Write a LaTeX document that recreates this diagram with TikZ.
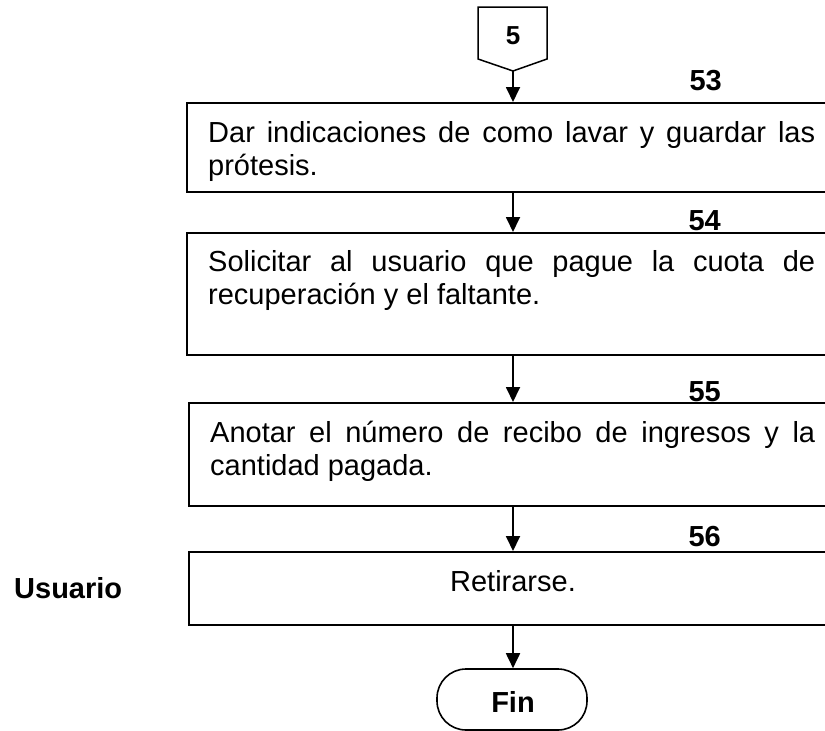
\documentclass[tikz,border=0pt]{standalone}
\usepackage{fontspec}
\setmainfont{Liberation Sans}
\usetikzlibrary{arrows.meta}
\begin{document}
\begin{tikzpicture}[x=1pt,y=-1pt,
  box/.style={draw, line width=2pt, inner sep=0pt},
  body/.style={inner sep=0pt, font=\fontsize{29}{32.5}\selectfont, align=left},
  lbl/.style={inner sep=0pt, font=\fontsize{29}{32}\selectfont\bfseries},
  arr/.style={line width=1.8pt, -{Triangle[length=15pt,width=14pt]}},
  term/.style={draw, line width=1.6pt, rounded corners=29pt, inner sep=0pt}
]
\useasboundingbox (0,0) rectangle (825,731);
\clip (0,0) rectangle (825,731);
% off-page connector 5
\draw[line width=1.5pt, line join=miter] (478,7) -- (547,7) -- (547,59) -- (513,71) -- (478,59) -- cycle;
\node[lbl, font=\fontsize{26}{30}\selectfont\bfseries, anchor=base] (c5) at (513,44) {5};
\coordinate (p5) at (513,71);
% boxes
\node[box, minimum width=653pt, minimum height=89pt] (b1) at (513.5,147.5) {};
\node[box, minimum width=653pt, minimum height=122pt] (b2) at (513.5,294) {};
\node[box, minimum width=651pt, minimum height=103pt] (b3) at (514.5,454.5) {};
\node[box, minimum width=651pt, minimum height=73pt] (b4) at (514.5,588.5) {};
\node[term, minimum width=150pt, minimum height=61pt] (fin) at (512,699.5) {};
% texts (base anchor = last line's baseline)
\node[body, anchor=base west] (t1) at (208,175) {\makebox[607pt][s]{Dar indicaciones de como lavar y guardar las}\\prótesis.};
\node[body, anchor=base west] (t2) at (208,304) {\makebox[607pt][s]{Solicitar al usuario que pague la cuota de}\\recuperación y el faltante.};
\node[body, anchor=base west] (t3) at (210,475) {\makebox[605pt][s]{Anotar el número de recibo de ingresos y la}\\cantidad pagada.};
\node[body, anchor=base] (t4) at (513,591) {Retirarse.};
\node[lbl, anchor=base] (tfin) at (513,712) {Fin};
\node[lbl, anchor=base west] (usr) at (14,598) {Usuario};
% step numbers
\node[lbl, anchor=base east] (n53) at (722,90) {53};
\node[lbl, anchor=base east] (n54) at (721,230) {54};
\node[lbl, anchor=base east] (n55) at (721,401) {55};
\node[lbl, anchor=base east] (n56) at (721,546) {56};
% connectors
\draw[arr] (p5) -- (b1.north -| p5);
\draw[arr] (b1.south -| p5) -- (b2.north -| p5);
\draw[arr] (b2.south -| p5) -- (b3.north -| p5);
\draw[arr] (b3.south -| p5) -- (b4.north -| p5);
\draw[arr] (b4.south -| p5) -- (fin.north -| p5);
\end{tikzpicture}
\end{document}
